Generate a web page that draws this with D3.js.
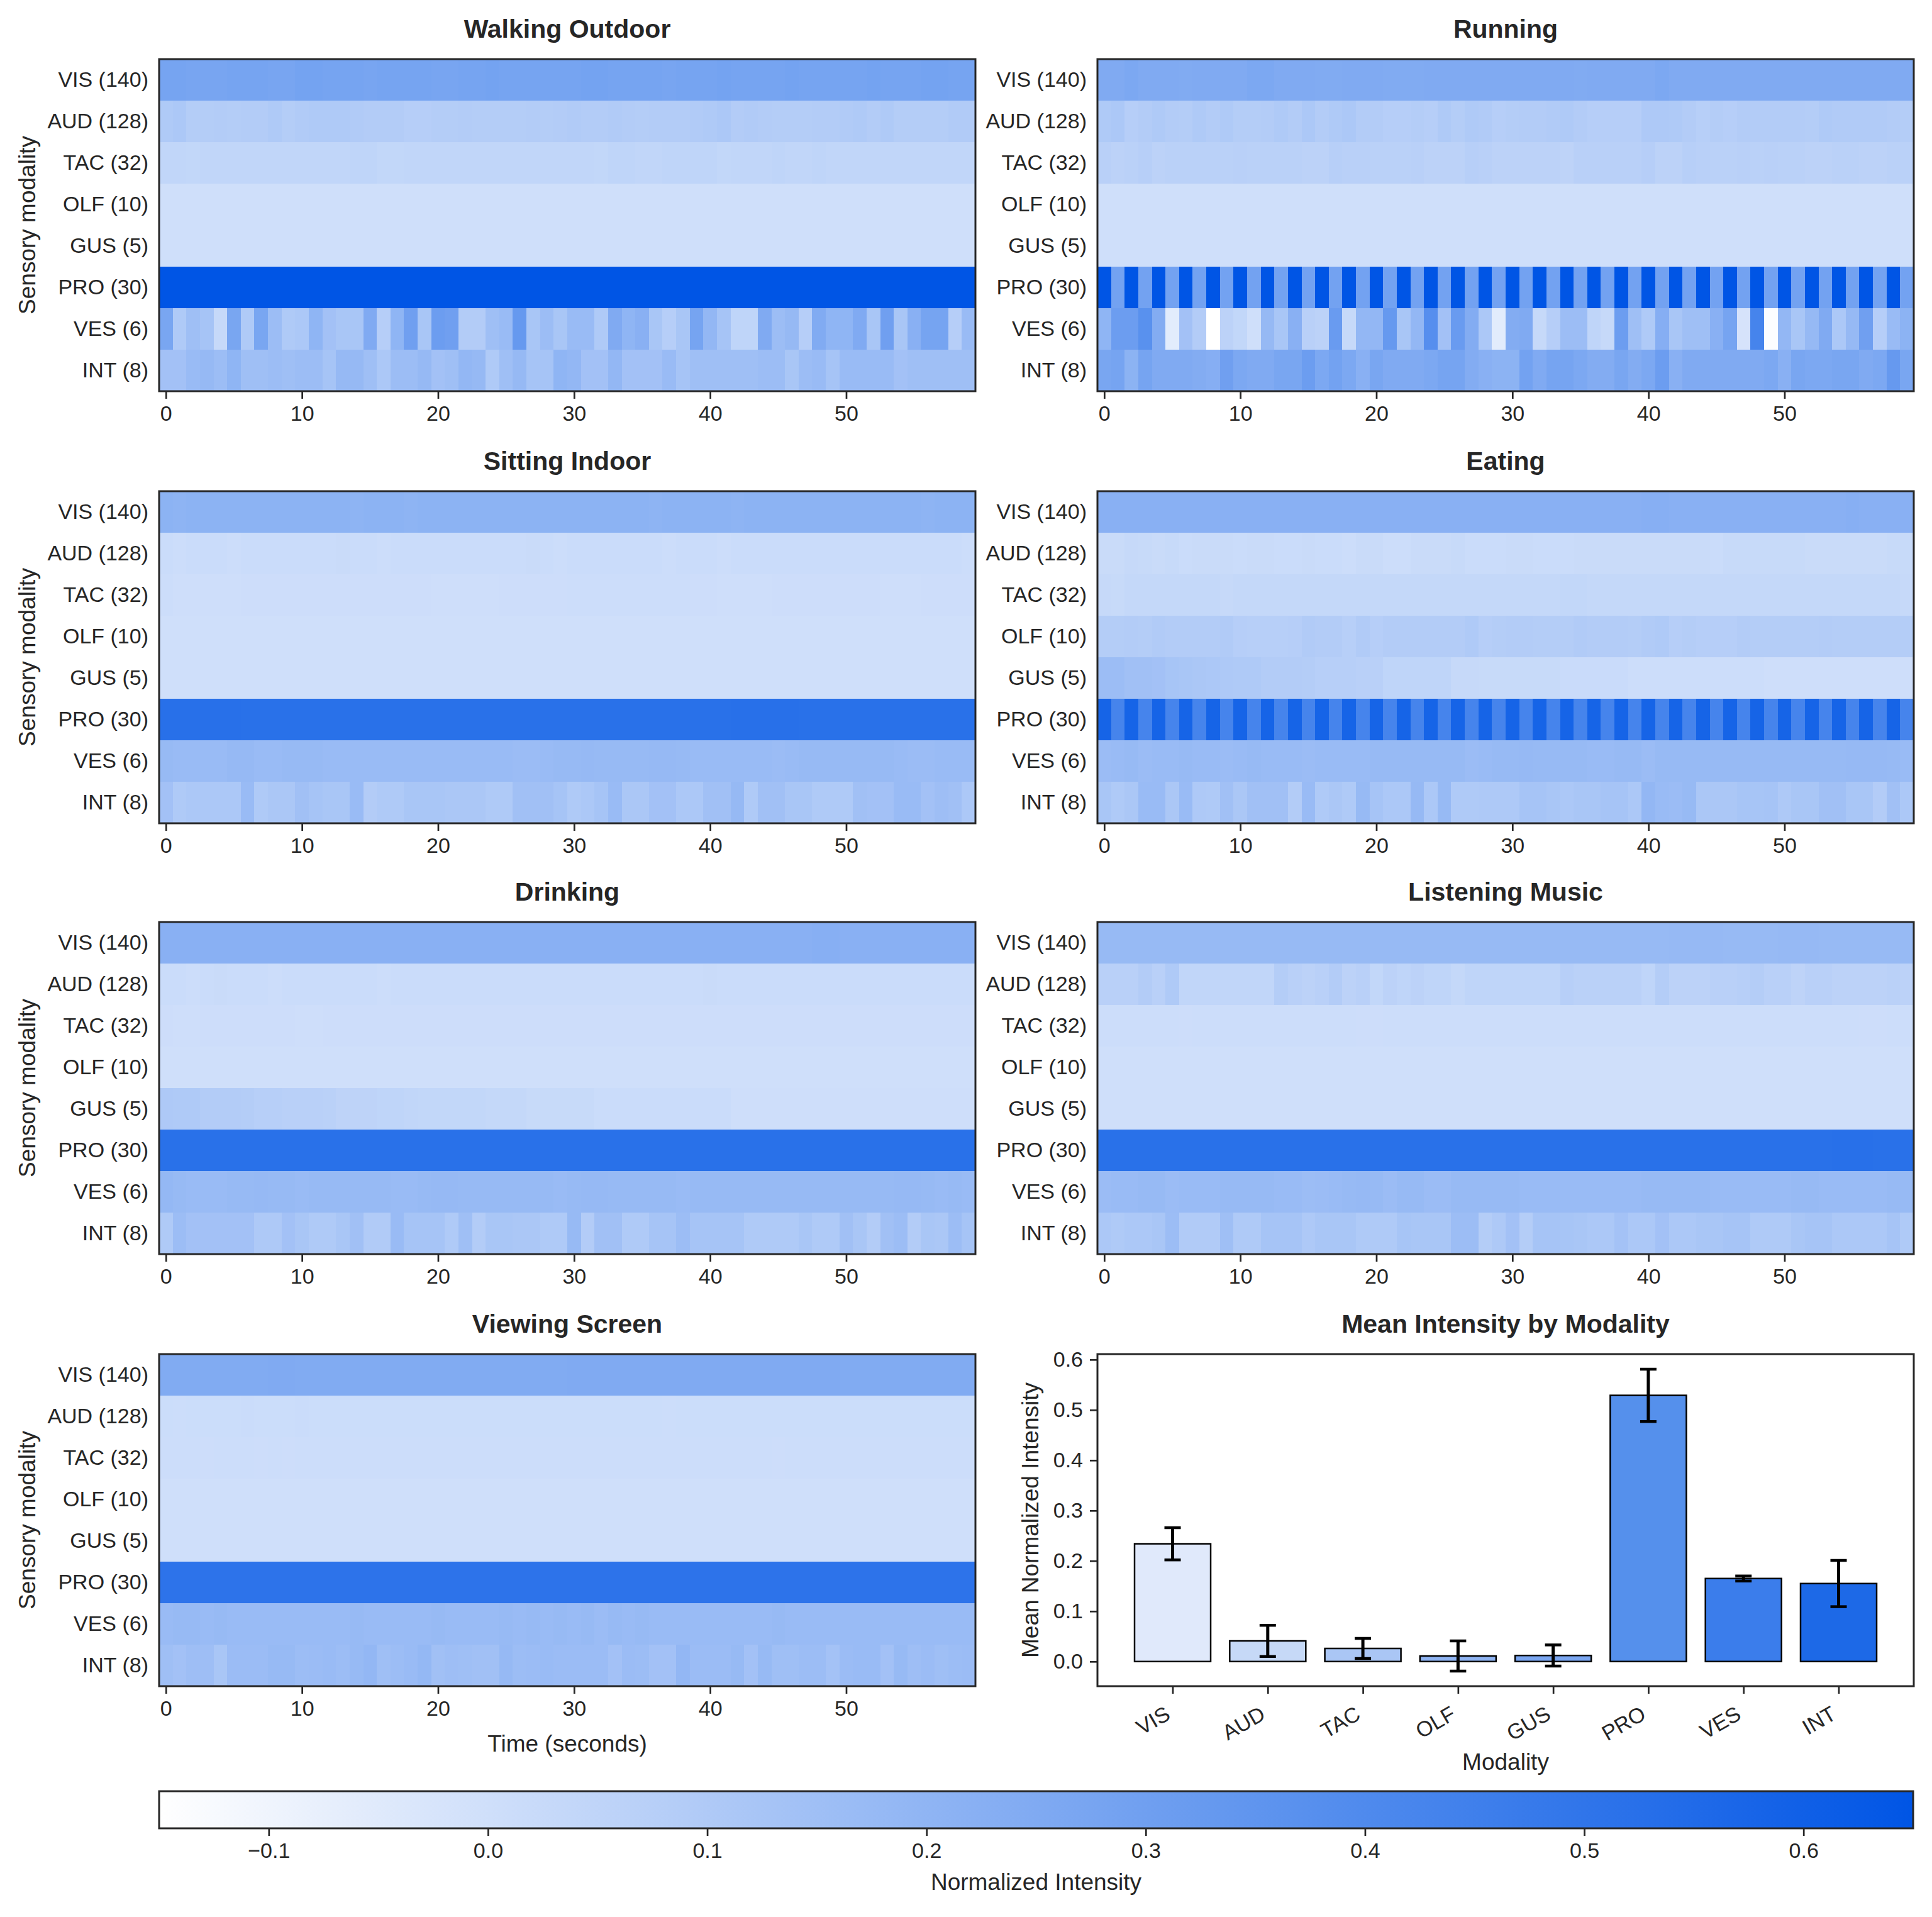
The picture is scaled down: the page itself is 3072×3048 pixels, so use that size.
<!DOCTYPE html>
<html>
<head>
<meta charset="utf-8">
<script src="https://cdn.jsdelivr.net/npm/d3@7"></script>
<style>
  body { margin: 0; background: #fff; }
  text { font-family: "Liberation Sans", Arial, sans-serif; }
</style>
</head>
<body>
<div id="chart"></div>
<script>
// ---- data ----
const modalityLabels = ["VIS (140)", "AUD (128)", "TAC (32)", "OLF (10)", "GUS (5)", "PRO (30)", "VES (6)", "INT (8)"];
const activities = ["Walking Outdoor", "Running", "Sitting Indoor", "Eating", "Drinking", "Listening Music", "Viewing Screen"];
const seconds = d3.range(60);
const timeTicks = [0, 10, 20, 30, 40, 50];

const zeroRow = [
  0,0,0,0,0,0,0,0,0,0, 0,0,0,0,0,0,0,0,0,0, 0,0,0,0,0,0,0,0,0,0,
  0,0,0,0,0,0,0,0,0,0, 0,0,0,0,0,0,0,0,0,0, 0,0,0,0,0,0,0,0,0,0];

const walkingOutdoor = [
  [0.28,0.28,0.275,0.275,0.275,0.28,0.28,0.28,0.275,0.275, 0.285,0.285,0.28,0.28,0.28,0.275,0.28,0.28,0.28,0.28,
   0.275,0.275,0.28,0.28,0.285,0.28,0.28,0.28,0.28,0.28, 0.28,0.285,0.285,0.28,0.28,0.28,0.28,0.275,0.28,0.28,
   0.28,0.285,0.28,0.28,0.28,0.28,0.285,0.28,0.28,0.28, 0.28,0.28,0.285,0.28,0.28,0.28,0.285,0.285,0.28,0.28],
  [0.10,0.11,0.085,0.085,0.09,0.085,0.09,0.09,0.10,0.085, 0.095,0.10,0.10,0.10,0.095,0.09,0.09,0.09,0.08,0.08,
   0.085,0.085,0.09,0.085,0.085,0.085,0.085,0.09,0.085,0.09, 0.095,0.09,0.09,0.095,0.09,0.085,0.09,0.09,0.09,0.095,
   0.10,0.11,0.09,0.095,0.09,0.085,0.085,0.085,0.09,0.09, 0.095,0.10,0.09,0.10,0.085,0.085,0.085,0.085,0.095,0.095],
  [0.045,0.045,0.04,0.045,0.045,0.045,0.045,0.045,0.045,0.045, 0.045,0.045,0.045,0.045,0.05,0.05,0.04,0.04,0.045,0.045,
   0.045,0.045,0.045,0.045,0.045,0.045,0.045,0.045,0.045,0.045, 0.045,0.045,0.04,0.05,0.05,0.045,0.045,0.05,0.05,0.05,
   0.05,0.04,0.045,0.045,0.045,0.05,0.045,0.045,0.05,0.045, 0.045,0.045,0.045,0.045,0.045,0.045,0.045,0.045,0.045,0.045],
  zeroRow,
  zeroRow,
  [0.65,0.65,0.65,0.65,0.65,0.65,0.65,0.65,0.65,0.65, 0.65,0.65,0.65,0.65,0.65,0.65,0.65,0.65,0.65,0.65,
   0.65,0.65,0.65,0.65,0.65,0.65,0.65,0.65,0.65,0.65, 0.65,0.65,0.65,0.65,0.65,0.65,0.65,0.65,0.65,0.65,
   0.65,0.65,0.65,0.65,0.65,0.65,0.65,0.65,0.65,0.65, 0.65,0.65,0.65,0.65,0.65,0.65,0.65,0.65,0.65,0.65],
  [0.27,0.10,0.15,0.13,0.03,0.27,0.10,0.27,0.16,0.10, 0.11,0.20,0.14,0.12,0.12,0.25,0.08,0.20,0.30,0.12,
   0.31,0.30,0.09,0.09,0.15,0.17,0.33,0.12,0.16,0.12, 0.17,0.17,0.10,0.25,0.20,0.22,0.12,0.08,0.12,0.28,
   0.19,0.13,0.05,0.05,0.25,0.16,0.18,0.08,0.245,0.20, 0.20,0.25,0.12,0.30,0.12,0.22,0.28,0.28,0.08,0.17],
  [0.14,0.14,0.17,0.18,0.16,0.20,0.15,0.15,0.16,0.15, 0.16,0.16,0.13,0.18,0.18,0.15,0.11,0.16,0.16,0.18,
   0.14,0.15,0.19,0.18,0.10,0.15,0.18,0.13,0.13,0.20, 0.19,0.14,0.14,0.19,0.14,0.14,0.14,0.17,0.13,0.15,
   0.15,0.15,0.15,0.15,0.16,0.16,0.12,0.16,0.17,0.13, 0.17,0.17,0.17,0.17,0.14,0.15,0.15,0.15,0.15,0.15]
];

const running = [
  [0.25,0.25,0.26,0.25,0.25,0.25,0.245,0.25,0.25,0.25, 0.25,0.26,0.26,0.25,0.25,0.25,0.245,0.245,0.25,0.25,
   0.25,0.245,0.245,0.245,0.25,0.25,0.25,0.25,0.25,0.25, 0.25,0.25,0.25,0.25,0.25,0.245,0.25,0.25,0.25,0.25,
   0.25,0.26,0.25,0.25,0.25,0.25,0.25,0.25,0.25,0.25, 0.25,0.25,0.25,0.25,0.25,0.25,0.25,0.25,0.25,0.25],
  [0.10,0.11,0.08,0.09,0.10,0.09,0.085,0.10,0.09,0.10, 0.085,0.085,0.09,0.10,0.09,0.11,0.09,0.10,0.11,0.09,
   0.09,0.08,0.08,0.085,0.08,0.10,0.085,0.10,0.095,0.08, 0.085,0.09,0.09,0.095,0.10,0.09,0.08,0.08,0.08,0.08,
   0.105,0.105,0.10,0.09,0.075,0.085,0.08,0.09,0.09,0.09, 0.09,0.09,0.085,0.10,0.095,0.095,0.095,0.095,0.09,0.085],
  [0.07,0.06,0.065,0.075,0.06,0.065,0.065,0.065,0.065,0.065, 0.07,0.065,0.065,0.065,0.065,0.06,0.06,0.075,0.07,0.07,
   0.065,0.065,0.065,0.07,0.06,0.06,0.06,0.075,0.07,0.06, 0.06,0.06,0.06,0.06,0.055,0.07,0.07,0.07,0.07,0.07,
   0.08,0.06,0.06,0.075,0.07,0.065,0.065,0.07,0.065,0.07, 0.065,0.065,0.06,0.06,0.065,0.065,0.06,0.06,0.065,0.065],
  zeroRow,
  zeroRow,
  [0.65,0.29,0.65,0.29,0.65,0.29,0.65,0.29,0.65,0.29, 0.65,0.29,0.65,0.29,0.65,0.29,0.65,0.29,0.65,0.29,
   0.65,0.29,0.65,0.29,0.65,0.29,0.65,0.29,0.65,0.29, 0.65,0.29,0.65,0.29,0.65,0.29,0.65,0.29,0.65,0.29,
   0.65,0.29,0.65,0.29,0.65,0.29,0.65,0.29,0.65,0.29, 0.65,0.29,0.65,0.29,0.65,0.29,0.65,0.29,0.65,0.29],
  [0.20,0.31,0.31,0.37,0.24,-0.06,0.14,0.09,-0.16,0.06, 0.04,0.00,0.18,0.12,0.22,0.07,0.06,0.32,0.03,0.19,
   0.19,0.33,0.12,0.19,0.38,0.14,0.32,0.24,0.11,-0.06, 0.24,0.25,0.03,0.08,0.16,0.16,0.05,0.03,0.31,0.15,
   0.10,0.23,0.12,0.15,0.15,0.22,0.28,-0.02,0.43,-0.14, 0.19,0.12,0.18,0.25,0.11,0.18,0.30,0.08,0.17,0.21],
  [0.27,0.28,0.21,0.28,0.25,0.25,0.25,0.24,0.23,0.30, 0.26,0.25,0.25,0.27,0.27,0.31,0.26,0.29,0.26,0.22,
   0.27,0.25,0.25,0.25,0.26,0.28,0.28,0.24,0.22,0.21, 0.21,0.29,0.25,0.28,0.28,0.26,0.24,0.24,0.27,0.24,
   0.26,0.31,0.22,0.25,0.25,0.25,0.25,0.25,0.25,0.26, 0.22,0.27,0.26,0.26,0.27,0.27,0.25,0.26,0.33,0.27]
];

const sittingIndoor = [
  [0.21,0.205,0.21,0.21,0.21,0.21,0.21,0.21,0.21,0.21, 0.21,0.21,0.21,0.21,0.205,0.21,0.21,0.21,0.205,0.21,
   0.21,0.21,0.21,0.21,0.21,0.21,0.21,0.21,0.21,0.21, 0.21,0.21,0.21,0.21,0.21,0.21,0.205,0.21,0.21,0.21,
   0.21,0.21,0.205,0.21,0.21,0.21,0.21,0.21,0.21,0.21, 0.21,0.21,0.21,0.21,0.21,0.21,0.205,0.21,0.21,0.21],
  [0.015,0.01,0.015,0.015,0.015,0.01,0.015,0.015,0.015,0.015, 0.015,0.015,0.015,0.02,0.015,0.015,0.01,0.015,0.015,0.015,
   0.015,0.015,0.015,0.015,0.015,0.015,0.015,0.02,0.015,0.01, 0.015,0.015,0.015,0.015,0.015,0.015,0.015,0.01,0.015,0.015,
   0.015,0.01,0.015,0.015,0.015,0.015,0.015,0.015,0.015,0.015, 0.015,0.015,0.015,0.015,0.015,0.015,0.015,0.015,0.015,0.01],
  [0.01,0.005,0.005,0.005,0.005,0.005,0.008,0.008,0.008,0.008, 0.008,0.008,0.008,0.008,0.008,0.008,0.008,0.008,0.008,0.008,
   0.005,0.005,0.005,0.005,0.005,0.008,0.008,0.008,0.008,0.008, 0.01,0.01,0.01,0.01,0.01,0.01,0.01,0.01,0.01,0.008,
   0.008,0.005,0.005,0.005,0.005,0.008,0.008,0.008,0.008,0.008, 0.008,0.008,0.008,0.005,0.005,0.005,0.008,0.008,0.008,0.008],
  zeroRow,
  zeroRow,
  [0.525,0.525,0.525,0.525,0.525,0.525,0.52,0.52,0.52,0.52, 0.52,0.52,0.52,0.52,0.52,0.52,0.52,0.52,0.52,0.52,
   0.52,0.52,0.52,0.52,0.52,0.52,0.52,0.52,0.52,0.52, 0.52,0.52,0.52,0.52,0.52,0.52,0.52,0.52,0.52,0.52,
   0.52,0.52,0.525,0.525,0.525,0.525,0.525,0.52,0.52,0.52, 0.52,0.52,0.52,0.52,0.52,0.52,0.52,0.52,0.52,0.52],
  [0.175,0.17,0.17,0.17,0.17,0.18,0.18,0.17,0.17,0.175, 0.175,0.175,0.17,0.17,0.17,0.17,0.17,0.17,0.17,0.17,
   0.17,0.17,0.17,0.17,0.17,0.17,0.165,0.165,0.17,0.175, 0.175,0.18,0.175,0.175,0.175,0.175,0.18,0.18,0.175,0.17,
   0.17,0.17,0.17,0.17,0.17,0.165,0.17,0.175,0.175,0.175, 0.175,0.175,0.175,0.175,0.17,0.165,0.165,0.17,0.17,0.17],
  [0.14,0.10,0.11,0.11,0.11,0.11,0.17,0.10,0.115,0.115, 0.145,0.13,0.12,0.12,0.17,0.09,0.10,0.10,0.12,0.12,
   0.12,0.115,0.115,0.115,0.10,0.10,0.145,0.145,0.145,0.13, 0.10,0.11,0.13,0.17,0.115,0.115,0.14,0.14,0.11,0.11,
   0.145,0.145,0.18,0.10,0.145,0.145,0.12,0.12,0.10,0.10, 0.10,0.145,0.14,0.14,0.17,0.17,0.14,0.155,0.145,0.11]
];

const eating = [
  [0.22,0.22,0.22,0.22,0.22,0.22,0.22,0.22,0.22,0.22, 0.22,0.22,0.22,0.22,0.22,0.22,0.22,0.22,0.22,0.22,
   0.22,0.22,0.22,0.22,0.22,0.22,0.22,0.22,0.22,0.22, 0.22,0.22,0.22,0.22,0.22,0.22,0.22,0.22,0.22,0.22,
   0.225,0.225,0.22,0.22,0.22,0.22,0.22,0.22,0.22,0.22, 0.22,0.22,0.22,0.22,0.22,0.225,0.22,0.22,0.22,0.22],
  [0.02,0.02,0.03,0.025,0.02,0.025,0.015,0.02,0.02,0.02, 0.015,0.02,0.02,0.015,0.015,0.02,0.015,0.015,0.01,0.02,
   0.02,0.01,0.01,0.02,0.02,0.02,0.025,0.015,0.015,0.015, 0.02,0.02,0.015,0.015,0.015,0.02,0.02,0.02,0.02,0.02,
   0.02,0.02,0.02,0.02,0.02,0.015,0.025,0.025,0.025,0.025, 0.025,0.025,0.02,0.02,0.02,0.02,0.02,0.02,0.025,0.025],
  [0.03,0.025,0.035,0.035,0.035,0.035,0.035,0.035,0.035,0.03, 0.035,0.035,0.035,0.035,0.035,0.035,0.035,0.035,0.035,0.035,
   0.035,0.035,0.035,0.035,0.035,0.035,0.035,0.035,0.035,0.035, 0.035,0.035,0.035,0.035,0.04,0.04,0.035,0.035,0.035,0.035,
   0.035,0.035,0.035,0.035,0.035,0.035,0.035,0.035,0.035,0.035, 0.035,0.035,0.035,0.035,0.035,0.035,0.035,0.035,0.035,0.03],
  [0.085,0.085,0.09,0.085,0.095,0.09,0.09,0.09,0.09,0.095, 0.08,0.075,0.075,0.075,0.08,0.095,0.09,0.09,0.075,0.095,
   0.08,0.09,0.09,0.09,0.09,0.09,0.09,0.10,0.08,0.085, 0.09,0.09,0.085,0.085,0.085,0.095,0.09,0.09,0.09,0.085,
   0.095,0.10,0.08,0.085,0.08,0.08,0.08,0.09,0.085,0.085, 0.085,0.085,0.085,0.09,0.085,0.085,0.085,0.085,0.085,0.085],
  [0.16,0.16,0.145,0.145,0.14,0.125,0.12,0.115,0.11,0.105, 0.10,0.10,0.09,0.09,0.09,0.085,0.075,0.075,0.075,0.07,
   0.07,0.05,0.05,0.05,0.05,0.05,0.03,0.03,0.025,0.025, 0.025,0.025,0.025,0.025,0.018,0.018,0.018,0.018,0.018,0.01,
   0.01,0.01,0.01,0.01,0.01,0.01,0.01,0.01,0.01,0.003, 0.003,0.003,0.003,0.003,0.003,0.003,0.003,0.003,0.003,0.003],
  [0.58,0.43,0.58,0.43,0.58,0.43,0.58,0.43,0.58,0.43, 0.58,0.43,0.58,0.43,0.58,0.43,0.58,0.43,0.58,0.43,
   0.58,0.43,0.58,0.43,0.58,0.43,0.58,0.43,0.58,0.43, 0.58,0.43,0.58,0.43,0.58,0.43,0.58,0.43,0.58,0.43,
   0.58,0.43,0.58,0.43,0.58,0.43,0.58,0.43,0.58,0.43, 0.58,0.43,0.58,0.43,0.58,0.43,0.58,0.43,0.58,0.43],
  [0.165,0.17,0.175,0.165,0.17,0.17,0.175,0.17,0.17,0.165, 0.17,0.175,0.17,0.17,0.17,0.165,0.17,0.17,0.17,0.17,
   0.175,0.175,0.175,0.175,0.175,0.175,0.175,0.165,0.17,0.175, 0.175,0.18,0.175,0.175,0.175,0.175,0.17,0.17,0.175,0.175,
   0.165,0.175,0.175,0.175,0.175,0.175,0.175,0.175,0.175,0.175, 0.175,0.175,0.175,0.175,0.175,0.18,0.18,0.18,0.175,0.17],
  [0.12,0.10,0.115,0.17,0.17,0.115,0.17,0.105,0.10,0.145, 0.115,0.145,0.145,0.145,0.09,0.17,0.10,0.115,0.10,0.175,
   0.13,0.11,0.11,0.18,0.11,0.175,0.10,0.10,0.105,0.105, 0.105,0.13,0.13,0.12,0.11,0.12,0.12,0.13,0.13,0.11,
   0.19,0.17,0.165,0.175,0.115,0.115,0.115,0.125,0.125,0.13, 0.105,0.12,0.12,0.145,0.145,0.12,0.12,0.09,0.145,0.11]
];

const drinking = [
  [0.22,0.22,0.22,0.22,0.22,0.22,0.22,0.22,0.22,0.22, 0.22,0.22,0.22,0.22,0.22,0.22,0.22,0.22,0.22,0.22,
   0.22,0.22,0.22,0.22,0.22,0.22,0.22,0.22,0.22,0.22, 0.22,0.22,0.22,0.22,0.22,0.22,0.22,0.22,0.22,0.22,
   0.22,0.22,0.22,0.22,0.22,0.22,0.22,0.22,0.225,0.225, 0.22,0.22,0.22,0.22,0.22,0.22,0.22,0.22,0.22,0.22],
  [0.015,0.015,0.01,0.015,0.02,0.015,0.015,0.015,0.01,0.015, 0.015,0.015,0.015,0.015,0.015,0.015,0.01,0.015,0.015,0.015,
   0.015,0.015,0.015,0.015,0.015,0.015,0.015,0.015,0.015,0.015, 0.015,0.015,0.015,0.015,0.015,0.015,0.015,0.015,0.015,0.015,
   0.02,0.015,0.015,0.015,0.015,0.015,0.015,0.015,0.015,0.015, 0.015,0.015,0.015,0.015,0.015,0.015,0.015,0.015,0.015,0.015],
  [0.008,0.005,0.005,0.008,0.008,0.008,0.008,0.008,0.008,0.008, 0.005,0.005,0.008,0.008,0.008,0.008,0.008,0.008,0.008,0.008,
   0.008,0.008,0.008,0.008,0.008,0.008,0.008,0.008,0.008,0.008, 0.008,0.008,0.008,0.008,0.008,0.008,0.008,0.008,0.008,0.008,
   0.008,0.008,0.008,0.008,0.008,0.008,0.008,0.008,0.008,0.008, 0.008,0.008,0.008,0.008,0.008,0.008,0.008,0.008,0.008,0.008],
  zeroRow,
  [0.105,0.10,0.10,0.09,0.09,0.09,0.085,0.075,0.075,0.07, 0.07,0.07,0.065,0.055,0.055,0.055,0.05,0.05,0.045,0.04,
   0.04,0.04,0.04,0.04,0.035,0.035,0.035,0.025,0.025,0.025, 0.025,0.025,0.015,0.015,0.015,0.015,0.015,0.015,0.015,0.015,
   0.015,0.015,0.005,0.005,0.005,0.005,0.005,0.005,0.005,0.005, 0.005,0.005,0.005,0.005,0.005,0.005,0.005,0.005,0.005,0.005],
  [0.52,0.52,0.52,0.52,0.52,0.52,0.52,0.52,0.52,0.52, 0.52,0.52,0.52,0.52,0.52,0.52,0.52,0.52,0.52,0.52,
   0.52,0.52,0.52,0.52,0.52,0.52,0.52,0.52,0.52,0.52, 0.52,0.52,0.52,0.52,0.52,0.52,0.52,0.52,0.52,0.52,
   0.52,0.52,0.52,0.52,0.52,0.52,0.52,0.52,0.52,0.52, 0.52,0.52,0.52,0.52,0.52,0.52,0.52,0.52,0.52,0.52],
  [0.185,0.175,0.17,0.17,0.17,0.175,0.175,0.18,0.175,0.175, 0.17,0.175,0.175,0.175,0.175,0.175,0.175,0.17,0.17,0.175,
   0.18,0.18,0.175,0.175,0.175,0.175,0.175,0.175,0.175,0.17, 0.175,0.18,0.18,0.175,0.175,0.175,0.175,0.175,0.17,0.175,
   0.175,0.175,0.175,0.175,0.175,0.175,0.175,0.175,0.175,0.175, 0.175,0.175,0.175,0.175,0.18,0.18,0.175,0.17,0.175,0.17],
  [0.10,0.16,0.14,0.14,0.14,0.14,0.14,0.105,0.105,0.14, 0.12,0.10,0.10,0.12,0.145,0.095,0.095,0.17,0.13,0.13,
   0.13,0.10,0.15,0.09,0.12,0.12,0.115,0.115,0.10,0.10, 0.175,0.09,0.145,0.145,0.10,0.10,0.13,0.13,0.16,0.13,
   0.13,0.13,0.13,0.10,0.10,0.10,0.10,0.12,0.10,0.10, 0.145,0.12,0.09,0.145,0.16,0.09,0.12,0.115,0.16,0.13]
];

const listeningMusic = [
  [0.175,0.175,0.175,0.175,0.175,0.175,0.175,0.175,0.175,0.175, 0.175,0.175,0.175,0.175,0.175,0.175,0.175,0.175,0.175,0.175,
   0.175,0.175,0.175,0.175,0.175,0.175,0.175,0.175,0.175,0.175, 0.175,0.175,0.175,0.175,0.175,0.175,0.175,0.175,0.175,0.175,
   0.175,0.175,0.18,0.18,0.18,0.18,0.175,0.175,0.175,0.175, 0.18,0.18,0.18,0.175,0.175,0.175,0.175,0.175,0.175,0.175],
  [0.07,0.07,0.07,0.09,0.07,0.10,0.045,0.045,0.045,0.045, 0.045,0.045,0.045,0.085,0.07,0.06,0.07,0.09,0.06,0.07,
   0.04,0.06,0.05,0.06,0.05,0.05,0.035,0.05,0.05,0.05, 0.05,0.05,0.05,0.05,0.075,0.065,0.065,0.065,0.065,0.065,
   0.05,0.085,0.06,0.06,0.06,0.07,0.07,0.075,0.085,0.07, 0.07,0.055,0.07,0.07,0.06,0.06,0.06,0.06,0.065,0.06],
  [0.01,0.01,0.01,0.01,0.01,0.01,0.008,0.01,0.01,0.01, 0.01,0.01,0.01,0.01,0.01,0.01,0.01,0.01,0.01,0.008,
   0.008,0.01,0.01,0.01,0.01,0.01,0.01,0.01,0.01,0.01, 0.01,0.01,0.01,0.01,0.01,0.01,0.01,0.01,0.01,0.01,
   0.01,0.01,0.01,0.01,0.01,0.01,0.01,0.01,0.01,0.01, 0.01,0.01,0.01,0.01,0.01,0.01,0.008,0.008,0.01,0.01],
  zeroRow,
  zeroRow,
  [0.52,0.52,0.52,0.52,0.52,0.52,0.52,0.52,0.52,0.52, 0.52,0.52,0.52,0.52,0.52,0.52,0.52,0.52,0.52,0.52,
   0.52,0.52,0.52,0.52,0.52,0.52,0.52,0.52,0.52,0.52, 0.52,0.52,0.52,0.52,0.52,0.52,0.52,0.52,0.52,0.52,
   0.52,0.52,0.52,0.52,0.52,0.52,0.52,0.52,0.52,0.52, 0.52,0.52,0.52,0.52,0.525,0.525,0.525,0.52,0.52,0.52],
  [0.165,0.17,0.17,0.175,0.175,0.165,0.17,0.17,0.17,0.175, 0.175,0.175,0.175,0.17,0.17,0.16,0.165,0.17,0.175,0.18,
   0.175,0.165,0.175,0.175,0.165,0.165,0.175,0.175,0.175,0.175, 0.175,0.17,0.17,0.17,0.17,0.17,0.17,0.17,0.17,0.17,
   0.175,0.175,0.175,0.175,0.175,0.17,0.17,0.17,0.17,0.17, 0.17,0.175,0.175,0.17,0.17,0.17,0.17,0.17,0.175,0.175],
  [0.11,0.10,0.11,0.11,0.12,0.16,0.095,0.095,0.095,0.15, 0.10,0.10,0.13,0.13,0.13,0.105,0.12,0.12,0.12,0.10,
   0.10,0.10,0.125,0.12,0.12,0.12,0.16,0.16,0.085,0.105, 0.14,0.085,0.13,0.13,0.125,0.12,0.11,0.11,0.135,0.11,
   0.11,0.14,0.11,0.11,0.12,0.12,0.13,0.13,0.10,0.10, 0.10,0.12,0.13,0.13,0.11,0.11,0.11,0.11,0.13,0.10]
];

const viewingScreen = [
  [0.245,0.245,0.245,0.245,0.245,0.245,0.245,0.245,0.25,0.25, 0.245,0.245,0.245,0.245,0.245,0.245,0.245,0.245,0.245,0.245,
   0.245,0.245,0.245,0.245,0.245,0.245,0.245,0.245,0.245,0.245, 0.25,0.25,0.25,0.25,0.25,0.25,0.25,0.25,0.25,0.25,
   0.25,0.25,0.25,0.25,0.25,0.25,0.25,0.25,0.25,0.25, 0.245,0.245,0.245,0.245,0.245,0.245,0.245,0.245,0.245,0.245],
  [0.012,0.01,0.012,0.012,0.012,0.012,0.015,0.012,0.012,0.012, 0.015,0.012,0.012,0.012,0.012,0.012,0.012,0.012,0.012,0.012,
   0.012,0.012,0.012,0.012,0.012,0.012,0.012,0.012,0.012,0.012, 0.012,0.012,0.012,0.012,0.012,0.012,0.012,0.01,0.012,0.012,
   0.012,0.012,0.012,0.012,0.012,0.012,0.012,0.012,0.012,0.012, 0.012,0.012,0.012,0.012,0.012,0.012,0.012,0.012,0.012,0.012],
  [0.01,0.01,0.01,0.008,0.01,0.01,0.01,0.008,0.01,0.008, 0.01,0.01,0.01,0.01,0.01,0.01,0.01,0.01,0.01,0.01,
   0.01,0.01,0.01,0.01,0.01,0.01,0.01,0.01,0.01,0.01, 0.01,0.01,0.01,0.01,0.01,0.01,0.01,0.01,0.01,0.01,
   0.01,0.01,0.01,0.01,0.01,0.008,0.01,0.01,0.01,0.01, 0.01,0.01,0.01,0.01,0.01,0.01,0.01,0.01,0.01,0.01],
  zeroRow,
  zeroRow,
  [0.51,0.51,0.51,0.51,0.51,0.51,0.51,0.51,0.51,0.51, 0.51,0.51,0.51,0.51,0.51,0.51,0.51,0.51,0.51,0.51,
   0.51,0.51,0.51,0.51,0.51,0.51,0.51,0.51,0.51,0.51, 0.51,0.51,0.51,0.51,0.51,0.51,0.51,0.51,0.51,0.51,
   0.51,0.51,0.51,0.51,0.51,0.51,0.51,0.51,0.51,0.51, 0.51,0.51,0.51,0.51,0.51,0.51,0.51,0.51,0.51,0.51],
  [0.17,0.175,0.175,0.17,0.175,0.17,0.17,0.17,0.17,0.17, 0.17,0.17,0.17,0.17,0.175,0.17,0.17,0.17,0.17,0.17,
   0.175,0.17,0.17,0.17,0.17,0.175,0.17,0.175,0.17,0.175, 0.17,0.175,0.165,0.175,0.17,0.175,0.17,0.17,0.17,0.17,
   0.17,0.17,0.17,0.17,0.17,0.175,0.17,0.17,0.17,0.17, 0.17,0.17,0.17,0.17,0.17,0.17,0.17,0.17,0.17,0.17],
  [0.15,0.14,0.155,0.155,0.12,0.165,0.165,0.165,0.175,0.175, 0.16,0.165,0.17,0.16,0.175,0.19,0.15,0.16,0.17,0.185,
   0.145,0.155,0.15,0.145,0.145,0.18,0.16,0.165,0.17,0.165, 0.165,0.165,0.165,0.14,0.165,0.16,0.14,0.14,0.19,0.165,
   0.165,0.165,0.175,0.14,0.175,0.15,0.15,0.16,0.16,0.135, 0.165,0.17,0.17,0.14,0.175,0.155,0.165,0.15,0.16,0.165]
];

const activityData = [walkingOutdoor, running, sittingIndoor, eating, drinking, listeningMusic, viewingScreen];

// summary bar chart
const barCategories = ["VIS", "AUD", "TAC", "OLF", "GUS", "PRO", "VES", "INT"];
const barMeans = [0.234, 0.041, 0.026, 0.011, 0.012, 0.529, 0.165, 0.155];
const barErrors = [0.032, 0.031, 0.020, 0.030, 0.021, 0.052, 0.005, 0.046];
const barTicks = [0.0, 0.1, 0.2, 0.3, 0.4, 0.5, 0.6];
const barColors = ["#e0e9fb", "#c6d9f7", "#aac6f5", "#8fb4f3", "#7aa6f1", "#5590ec", "#3b7deb", "#1d69e7"];

// colour bar
const colorDomain = [-0.15, 0.65];
const colorTicks = [-0.1, 0.0, 0.1, 0.2, 0.3, 0.4, 0.5, 0.6];

// ---- layout ----
const W = 3072, H = 3048;
const colX = [253, 1745];
const rowY = [94, 781, 1466, 2153];
const panelW = 1298, panelH = 528;
const ink = "#262626";
const tickFont = 34, labelFont = 37, titleFont = 41;

const color = d3.scaleLinear().domain(colorDomain).range(["#ffffff", "#0055e5"]).clamp(true);

const svg = d3.select("#chart").append("svg")
  .attr("width", W).attr("height", H)
  .style("background", "#fff");

function styleAxis(g) {
  g.select(".domain").remove();
  g.attr("font-size", tickFont).attr("font-family", "Liberation Sans, Arial, sans-serif");
  g.selectAll("text").attr("fill", ink);
  g.selectAll("line").attr("stroke", ink).attr("stroke-width", 2.7);
}

function frame(x0, y0, w, h) {
  svg.append("rect")
    .attr("x", x0).attr("y", y0).attr("width", w).attr("height", h)
    .attr("fill", "none").attr("stroke", ink).attr("stroke-width", 3);
}

function title(txt, cx, y0) {
  svg.append("text")
    .attr("x", cx).attr("y", y0 - 34)
    .attr("text-anchor", "middle")
    .attr("font-size", titleFont).attr("font-weight", "bold")
    .attr("fill", ink)
    .text(txt);
}

function drawHeatmap(values, name, idx) {
  const col = idx % 2, row = Math.floor(idx / 2);
  const x0 = colX[col], y0 = rowY[row];
  const x = d3.scaleLinear().domain([-0.5, seconds.length - 0.5]).range([x0, x0 + panelW]);
  const y = d3.scaleBand().domain(modalityLabels).range([y0, y0 + panelH]);

  const g = svg.append("g");
  values.forEach((rowVals, r) => {
    g.append("g").selectAll("rect")
      .data(rowVals)
      .join("rect")
      .attr("x", (d, i) => x(seconds[i] - 0.5))
      .attr("width", (d, i) => x(seconds[i] + 0.5) - x(seconds[i] - 0.5))
      .attr("y", y(modalityLabels[r]))
      .attr("height", y.bandwidth())
      .attr("fill", d => color(d))
      .attr("shape-rendering", "crispEdges");
  });

  frame(x0, y0, panelW, panelH);

  const xa = svg.append("g")
    .attr("transform", "translate(0," + (y0 + panelH) + ")")
    .call(d3.axisBottom(x).tickValues(timeTicks).tickSize(12).tickPadding(11).tickFormat(d3.format("d")));
  styleAxis(xa);

  const ya = svg.append("g")
    .attr("transform", "translate(" + x0 + ",0)")
    .call(d3.axisLeft(y).tickSize(0).tickPadding(17));
  styleAxis(ya);

  title(name, x0 + panelW / 2, y0);

  if (col === 0) {
    svg.append("text")
      .attr("transform", "translate(43," + (y0 + panelH / 2) + ") rotate(-90)")
      .attr("text-anchor", "middle").attr("dominant-baseline", "central")
      .attr("font-size", labelFont).attr("fill", ink)
      .text("Sensory modality");
  }
  if (idx === activities.length - 1) {
    svg.append("text")
      .attr("x", x0 + panelW / 2).attr("y", 2772)
      .attr("text-anchor", "middle").attr("dominant-baseline", "central")
      .attr("font-size", labelFont).attr("fill", ink)
      .text("Time (seconds)");
  }
}

activities.forEach((a, i) => drawHeatmap(activityData[i], a, i));

// ---- bar chart ----
(function () {
  const x0 = colX[1], y0 = rowY[3];
  const pad = 0.05 * (barCategories.length - 1 + 0.8);
  const x = d3.scaleLinear().domain([-0.4 - pad, barCategories.length - 0.6 + pad]).range([x0, x0 + panelW]);
  const lo = d3.min(barMeans.map((m, i) => m - barErrors[i]));
  const hi = d3.max(barMeans.map((m, i) => m + barErrors[i]));
  const lo0 = Math.min(0, lo), span = hi - lo0;
  const y = d3.scaleLinear().domain([lo0 - 0.05 * span, hi + 0.05 * span]).range([y0 + panelH, y0]);
  const bw = x(0.8) - x(0);

  svg.append("g").selectAll("rect")
    .data(barMeans)
    .join("rect")
    .attr("x", (d, i) => x(i) - bw / 2)
    .attr("width", bw)
    .attr("y", d => y(Math.max(0, d)))
    .attr("height", d => Math.abs(y(d) - y(0)))
    .attr("fill", (d, i) => barColors[i])
    .attr("stroke", "#000").attr("stroke-width", 2.5);

  const eg = svg.append("g").attr("stroke", "#000");
  eg.selectAll("line.v").data(barMeans).join("line").attr("class", "v")
    .attr("x1", (d, i) => x(i)).attr("x2", (d, i) => x(i))
    .attr("y1", (d, i) => y(d - barErrors[i])).attr("y2", (d, i) => y(d + barErrors[i]))
    .attr("stroke-width", 5);
  eg.selectAll("line.top").data(barMeans).join("line").attr("class", "top")
    .attr("x1", (d, i) => x(i) - 13).attr("x2", (d, i) => x(i) + 13)
    .attr("y1", (d, i) => y(d + barErrors[i])).attr("y2", (d, i) => y(d + barErrors[i]))
    .attr("stroke-width", 4.5);
  eg.selectAll("line.bot").data(barMeans).join("line").attr("class", "bot")
    .attr("x1", (d, i) => x(i) - 13).attr("x2", (d, i) => x(i) + 13)
    .attr("y1", (d, i) => y(d - barErrors[i])).attr("y2", (d, i) => y(d - barErrors[i]))
    .attr("stroke-width", 4.5);

  frame(x0, y0, panelW, panelH);

  const xa = svg.append("g")
    .attr("transform", "translate(0," + (y0 + panelH) + ")")
    .call(d3.axisBottom(x).tickValues(d3.range(barCategories.length)).tickSize(12)
      .tickFormat(i => barCategories[i]));
  styleAxis(xa);
  xa.selectAll("text")
    .attr("text-anchor", "end")
    .attr("x", -14).attr("y", 30).attr("dy", "0.71em")
    .attr("transform", "rotate(-30,-14,30)");

  const ya = svg.append("g")
    .attr("transform", "translate(" + x0 + ",0)")
    .call(d3.axisLeft(y).tickValues(barTicks).tickSize(12).tickPadding(11).tickFormat(d3.format(".1f")));
  styleAxis(ya);

  title("Mean Intensity by Modality", x0 + panelW / 2, y0);

  svg.append("text")
    .attr("transform", "translate(1638," + (y0 + panelH / 2) + ") rotate(-90)")
    .attr("text-anchor", "middle").attr("dominant-baseline", "central")
    .attr("font-size", labelFont).attr("fill", ink)
    .text("Mean Normalized Intensity");

  svg.append("text")
    .attr("x", x0 + panelW / 2).attr("y", 2801)
    .attr("text-anchor", "middle").attr("dominant-baseline", "central")
    .attr("font-size", labelFont).attr("fill", ink)
    .text("Modality");
})();

// ---- colour bar ----
(function () {
  const cx0 = 253, cx1 = 3042, cy0 = 2848, cy1 = 2907;
  const cs = d3.scaleLinear().domain(colorDomain).range([cx0, cx1]);
  const grad = svg.append("defs").append("linearGradient")
    .attr("id", "cbgrad").attr("x1", "0%").attr("x2", "100%").attr("y1", "0%").attr("y2", "0%");
  d3.range(0, 1.0001, 0.1).forEach(t => {
    const v = colorDomain[0] + t * (colorDomain[1] - colorDomain[0]);
    grad.append("stop").attr("offset", (t * 100) + "%").attr("stop-color", color(v));
  });
  svg.append("rect")
    .attr("x", cx0).attr("y", cy0).attr("width", cx1 - cx0).attr("height", cy1 - cy0)
    .attr("fill", "url(#cbgrad)");
  frame(cx0, cy0, cx1 - cx0, cy1 - cy0);

  const ca = svg.append("g")
    .attr("transform", "translate(0," + cy1 + ")")
    .call(d3.axisBottom(cs).tickValues(colorTicks).tickSize(12).tickPadding(11).tickFormat(d3.format(".1f")));
  styleAxis(ca);

  svg.append("text")
    .attr("x", (cx0 + cx1) / 2).attr("y", 2992)
    .attr("text-anchor", "middle").attr("dominant-baseline", "central")
    .attr("font-size", labelFont).attr("fill", ink)
    .text("Normalized Intensity");
})();
</script>
</body>
</html>
